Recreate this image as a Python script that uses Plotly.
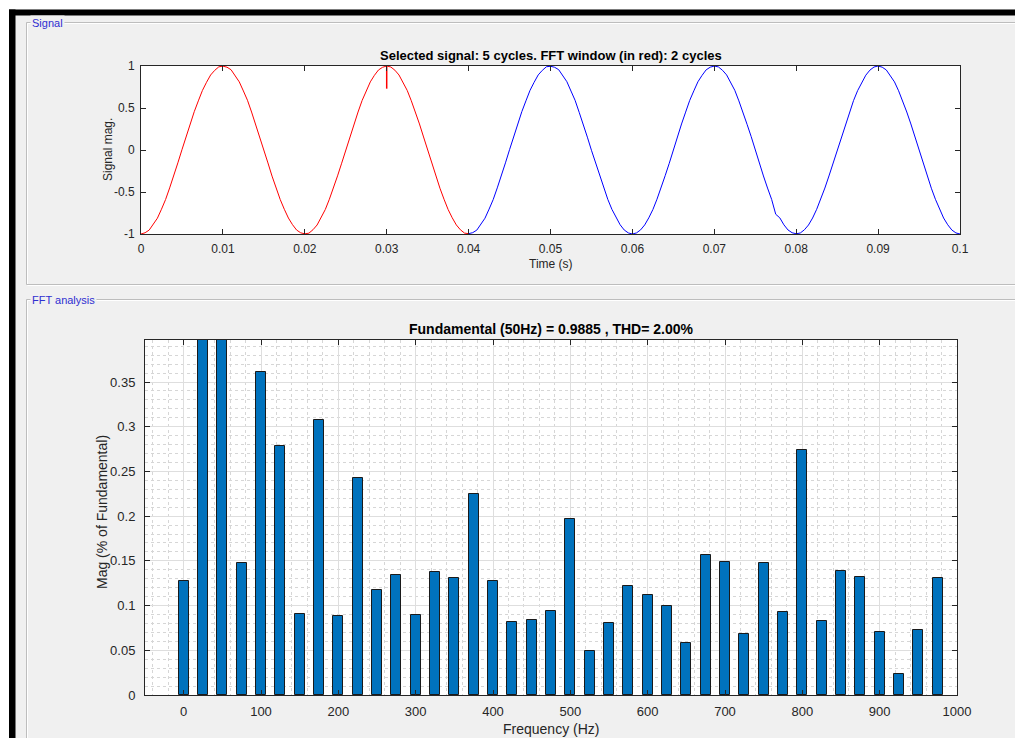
import plotly.graph_objects as go

# ---------------- data ----------------
SAMPLE_PERIOD = 0.0005  # s between signal samples
signal_values = [
    # cycle 1
    -1.000, -0.985, -0.953, -0.889, -0.812, -0.705, -0.590, -0.451, -0.311, -0.153,
    0.003, 0.158, 0.306, 0.456, 0.585, 0.709, 0.806, 0.893, 0.948, 0.990,
    0.998, 0.986, 0.955, 0.888, 0.811, 0.703, 0.592, 0.452, 0.307, 0.159,
    -0.002, -0.154, -0.311, -0.452, -0.590, -0.706, -0.810, -0.889, -0.953, -0.986,
    # cycle 2
    -0.998, -0.990, -0.949, -0.893, -0.807, -0.709, -0.586, -0.456, -0.308, -0.157,
    0.001, 0.154, 0.311, 0.452, 0.590, 0.705, 0.811, 0.889, 0.953, 0.985,
    1.000, 0.988, 0.950, 0.893, 0.806, 0.710, 0.587, 0.453, 0.310, 0.155,
    0.002, -0.158, -0.307, -0.455, -0.586, -0.709, -0.807, -0.892, -0.950, -0.989,
    # cycle 3
    -0.996, -0.984, -0.954, -0.888, -0.812, -0.704, -0.591, -0.451, -0.312, -0.153,
    0.004, 0.157, 0.308, 0.457, 0.585, 0.710, 0.806, 0.894, 0.948, 0.991,
    0.997, 0.985, 0.956, 0.887, 0.813, 0.702, 0.592, 0.449, 0.311, 0.153,
    -0.003, -0.155, -0.310, -0.453, -0.589, -0.707, -0.808, -0.890, -0.952, -0.987,
    # cycle 4
    -1.000, -0.987, -0.951, -0.892, -0.808, -0.709, -0.586, -0.455, -0.306, -0.158,
    0.002, 0.155, 0.310, 0.451, 0.591, 0.704, 0.812, 0.888, 0.954, 0.986,
    0.999, 0.989, 0.949, 0.894, 0.805, 0.711, 0.585, 0.457, 0.306, 0.160,
    -0.001, -0.156, -0.309, -0.453, -0.588, -0.765, -0.808, -0.891, -0.952, -0.985,
    # cycle 5
    -0.997, -0.988, -0.950, -0.893, -0.810, -0.706, -0.589, -0.453, -0.309, -0.155,
    0.001, 0.156, 0.309, 0.454, 0.588, 0.707, 0.809, 0.891, 0.951, 0.988,
    1.000, 0.986, 0.953, 0.889, 0.811, 0.705, 0.590, 0.452, 0.310, 0.154,
    -0.002, -0.157, -0.308, -0.455, -0.587, -0.708, -0.810, -0.890, -0.952, -0.987,
    -1.000,
]
FFT_WINDOW_SAMPLES = 80  # first 2 cycles (0 .. 0.04 s) shown in red
spike_t = [0.0300, 0.0300]
spike_v = [0.995, 0.730]

fft_freqs = [0, 25, 50, 75, 100, 125, 150, 175, 200, 225,
             250, 275, 300, 325, 350, 375, 400, 425, 450, 475,
             500, 525, 550, 575, 600, 625, 650, 675, 700, 725,
             750, 775, 800, 825, 850, 875, 900, 925, 950, 975]
fft_mag = [0.127, 0.55, 100.0, 0.148, 0.361, 0.279, 0.091, 0.307, 0.088, 0.243,
           0.117, 0.134, 0.089, 0.137, 0.131, 0.225, 0.128, 0.082, 0.084, 0.094,
           0.197, 0.049, 0.080, 0.122, 0.112, 0.100, 0.058, 0.157, 0.149, 0.068,
           0.148, 0.093, 0.274, 0.083, 0.139, 0.132, 0.071, 0.024, 0.073, 0.131]

sig_xticks = [0, 0.01, 0.02, 0.03, 0.04, 0.05, 0.06, 0.07, 0.08, 0.09, 0.1]
sig_xlabels = ["0", "0.01", "0.02", "0.03", "0.04", "0.05", "0.06", "0.07", "0.08", "0.09", "0.1"]
sig_yticks = [-1, -0.5, 0, 0.5, 1]
sig_ylabels = ["-1", "-0.5", "0", "0.5", "1"]
fft_xticks = [0, 100, 200, 300, 400, 500, 600, 700, 800, 900, 1000]
fft_xlabels = ["0", "100", "200", "300", "400", "500", "600", "700", "800", "900", "1000"]
fft_yticks = [0, 0.05, 0.1, 0.15, 0.2, 0.25, 0.3, 0.35]
fft_ylabels = ["0", "0.05", "0.1", "0.15", "0.2", "0.25", "0.3", "0.35"]

# ---------------- figure ----------------
W, H = 1015, 738
FONT = "Liberation Sans, Arial, sans-serif"
AX = "#262626"

def px(x):
    return x / W

def py(y):
    return 1 - y / H

t_all = [i * SAMPLE_PERIOD for i in range(len(signal_values))]

fig = go.Figure()
fig.add_trace(go.Scatter(x=t_all[FFT_WINDOW_SAMPLES:], y=signal_values[FFT_WINDOW_SAMPLES:],
                         mode="lines", line=dict(color="#0000ff", width=1),
                         xaxis="x", yaxis="y", showlegend=False, hoverinfo="skip"))
fig.add_trace(go.Scatter(x=t_all[:FFT_WINDOW_SAMPLES + 1], y=signal_values[:FFT_WINDOW_SAMPLES + 1],
                         mode="lines", line=dict(color="#ff0000", width=1),
                         xaxis="x", yaxis="y", showlegend=False, hoverinfo="skip"))
fig.add_trace(go.Scatter(x=spike_t, y=spike_v, mode="lines",
                         line=dict(color="#ff0000", width=1.5),
                         xaxis="x", yaxis="y", showlegend=False, hoverinfo="skip"))
fig.add_trace(go.Bar(x=fft_freqs, y=fft_mag, width=13,
                     marker=dict(color="#0072BD", line=dict(color="#1a1a1a", width=1)),
                     xaxis="x2", yaxis="y2", showlegend=False, hoverinfo="skip"))

common = dict(showline=True, linecolor=AX, linewidth=1, mirror="ticks",
              ticks="inside", ticklen=5, tickcolor=AX, tickwidth=1,
              zeroline=False, automargin=False, tickmode="array")

fig.update_layout(
    width=W, height=H,
    margin=dict(l=0, r=0, t=0, b=0),
    paper_bgcolor="#f0f0f0", plot_bgcolor="white",
    font=dict(family=FONT, color=AX),
    bargap=0,
    xaxis=dict(domain=[px(141), px(960)], range=[0, 0.1], tickvals=sig_xticks, ticktext=sig_xlabels,
               showgrid=False, anchor="y", tickfont=dict(size=12, color=AX),
               ticklabelstandoff=4, **common),
    yaxis=dict(domain=[py(234), py(66)], range=[-1, 1], tickvals=sig_yticks, ticktext=sig_ylabels,
               showgrid=False, anchor="x", tickfont=dict(size=12, color=AX),
               ticklabelstandoff=3, **common),
    xaxis2=dict(domain=[px(145), px(957)], range=[-50, 1000], tickvals=fft_xticks, ticktext=fft_xlabels,
                showgrid=True, gridcolor="#dedede", gridwidth=1, anchor="y2",
                minor=dict(dtick=20, tick0=0, showgrid=True, gridcolor="#d6d6d6", griddash="dot", gridwidth=1),
                tickfont=dict(size=13, color=AX), ticklabelstandoff=4, **common),
    yaxis2=dict(domain=[py(695), py(340)], range=[0, 0.397], tickvals=fft_yticks, ticktext=fft_ylabels,
                showgrid=True, gridcolor="#dedede", gridwidth=1, anchor="x2",
                minor=dict(dtick=0.01, tick0=0, showgrid=True, gridcolor="#d6d6d6", griddash="dot", gridwidth=1),
                tickfont=dict(size=13, color=AX), ticklabelstandoff=6, **common),
)

shapes = [
    # white page strips top/left
    dict(type="rect", xref="paper", yref="paper", x0=0, x1=1, y0=py(9.5), y1=1,
         fillcolor="white", line=dict(width=0), layer="below"),
    dict(type="rect", xref="paper", yref="paper", x0=0, x1=px(9), y0=0, y1=1,
         fillcolor="white", line=dict(width=0), layer="below"),
    # black window frame
    dict(type="rect", xref="paper", yref="paper", x0=px(9), x1=1, y0=py(15.5), y1=py(9.5),
         fillcolor="black", line=dict(width=0), layer="below"),
    dict(type="rect", xref="paper", yref="paper", x0=px(9), x1=px(15.5), y0=0, y1=py(9.5),
         fillcolor="black", line=dict(width=0), layer="below"),
    # panel borders (etched look)
    dict(type="rect", xref="paper", yref="paper", x0=px(27.5), x1=px(1030), y0=py(285.5), y1=py(23.5),
         line=dict(color="white", width=1), layer="below"),
    dict(type="rect", xref="paper", yref="paper", x0=px(26.5), x1=px(1030), y0=py(284.5), y1=py(22.5),
         line=dict(color="#bdbdbd", width=1), layer="below"),
    dict(type="rect", xref="paper", yref="paper", x0=px(27.5), x1=px(1030), y0=py(760), y1=py(300.5),
         line=dict(color="white", width=1), layer="below"),
    dict(type="rect", xref="paper", yref="paper", x0=px(26.5), x1=px(1030), y0=py(760), y1=py(299.5),
         line=dict(color="#bdbdbd", width=1), layer="below"),
]
fig.update_layout(shapes=shapes)

def ann(text, x, y, size, bold=False, color=AX, angle=0, xanchor="center", bg=None):
    d = dict(text=("<b>%s</b>" % text) if bold else text, x=px(x), y=py(y), xref="paper", yref="paper",
             showarrow=False, xanchor=xanchor, yanchor="middle", textangle=angle,
             font=dict(family=FONT, size=size, color=color))
    if bg:
        d["bgcolor"] = bg
        d["borderpad"] = 1
    return d

annotations = [
    ann("Signal", 30, 23, 11, color="#2f2fd0", xanchor="left", bg="#f0f0f0"),
    ann("FFT analysis", 30, 300, 11, color="#2f2fd0", xanchor="left", bg="#f0f0f0"),
    ann("Selected signal: 5 cycles. FFT window (in red): 2 cycles", 550.5, 55, 13, bold=True, color="black"),
    ann("Time (s)", 550.5, 264, 12),
    ann("Signal mag.", 108, 150, 12, angle=-90),
    ann("Fundamental (50Hz) = 0.9885 , THD= 2.00%", 551, 329, 14, bold=True, color="black"),
    ann("Frequency (Hz)", 551, 729, 14),
    ann("Mag (% of Fundamental)", 102, 512, 14, angle=-90),
]
fig.update_layout(annotations=annotations)

fig.write_html("out.html")
